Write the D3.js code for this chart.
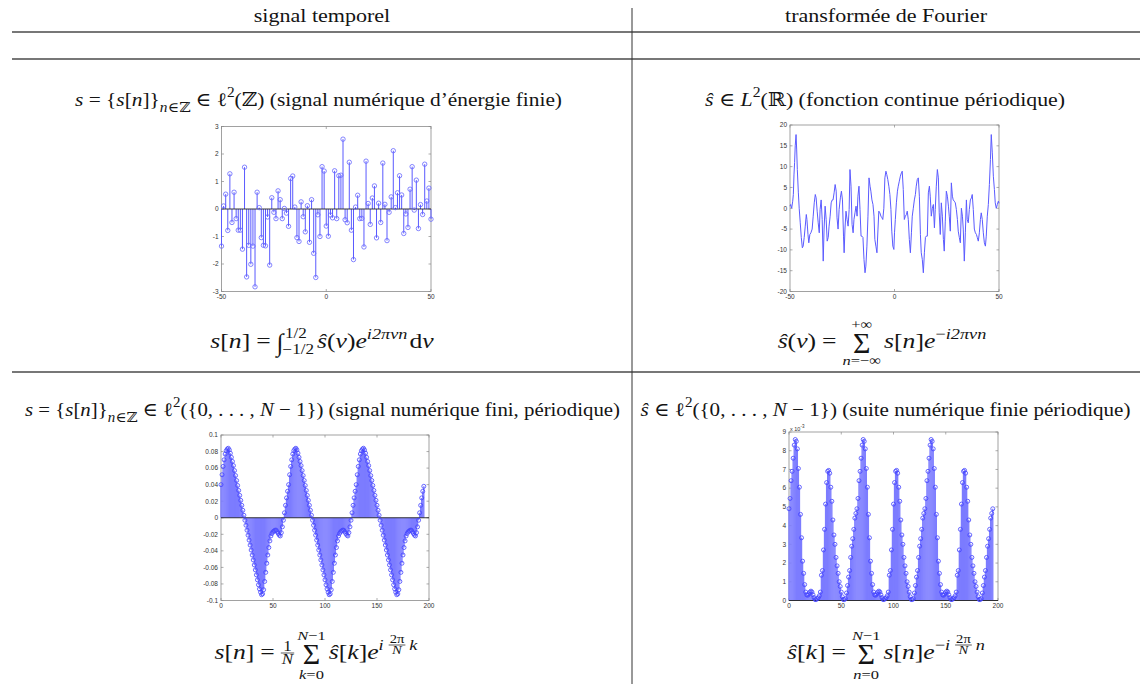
<!DOCTYPE html>
<html><head><meta charset="utf-8">
<script src="https://cdn.jsdelivr.net/npm/d3@7"></script>
<style>body{margin:0;background:#fff}</style>
</head><body>
<svg id="c" width="1147" height="684"></svg>
<script>
// ---------- DATA ----------
const headers = ["signal temporel", "transformée de Fourier"];

// chart 1: s[n], n = -50..50
const stemN = d3.range(-50, 51);
const stemValues = [-1.35,0.11,0.54,-0.78,1.28,-0.49,0.61,-0.35,-0.77,-0.77,
 -1.46,1.52,-2.47,-1.32,-2.01,-1.35,-2.83,0.61,0.05,-1.04,
 -1.32,-1.34,-0.29,-2.04,0.41,-0.12,-0.35,0.66,0.34,-0.35,
 0.02,-0.15,-0.63,1.11,1.2,0.07,-1.04,-1.18,0.26,-0.28,
 -0.83,0.12,-1.21,0.34,-1.61,-2.49,-0.21,-1.0,1.54,1.38,
 -0.62,-0.99,-0.22,-0.32,1.39,-0.35,1.21,1.23,2.54,-0.39,
 -0.5,1.7,-0.77,-1.84,0.07,0.5,-0.35,-0.34,-1.38,1.74,
 0.2,-0.56,0.4,0.84,-1.05,0.21,-0.49,1.67,0.17,-1.15,
 -0.12,0.44,2.12,0.05,0.59,1.21,0.51,-0.89,-0.18,-0.67,
 0.72,1.54,-0.04,1.05,-0.71,0.16,-0.2,1.63,0.29,0.76,
 -0.37];
const stemXTicks = [-50, 0, 50];
const stemYTicks = [-3, -2, -1, 0, 1, 2, 3];

// chart 2: continuous periodic function
const contNu = [-50,-49.7,-49.2,-48.7,-48.4,-48.1,-47.8,-47.5,-47.1,-46.8,-46.5,-46.0,-45.6,-45.1,-44.6,-44.1,-43.7,-43.2,-42.7,-42.2,
 -41.9,-41.4,-41.0,-40.5,-40.0,-39.4,-38.9,-38.4,-37.9,-37.5,-37.0,-36.5,-36.0,-35.6,-35.1,-34.6,-34.1,-33.7,-33.2,-32.7,
 -32.2,-31.7,-31.3,-30.8,-30.3,-29.8,-29.4,-28.9,-28.4,-27.9,-27.5,-27.0,-26.5,-25.9,-25.4,-24.9,-24.4,-24.1,-23.7,-23.2,
 -22.7,-22.2,-21.7,-21.3,-20.8,-20.3,-19.8,-19.4,-18.9,-18.4,-17.9,-17.5,-17.0,-16.5,-16.0,-15.6,-15.1,-14.6,-14.1,-13.7,
 -13.2,-12.7,-12.2,-11.7,-11.3,-10.8,-10.3,-9.8,-9.4,-8.9,-8.4,-7.9,-7.5,-7.0,-6.5,-6.0,-5.6,-5.1,-4.6,-4.1,
 -3.7,-3.2,-2.7,-2.2,-1.7,-1.3,-0.8,-0.3,0.0,
 0.4,0.9,1.4,1.8,2.3,2.8,3.3,3.7,4.2,4.7,5.2,5.7,6.1,6.6,7.1,7.6,8.1,8.5,9.0,9.5,
 10.0,10.4,10.9,11.4,11.9,12.4,12.8,13.3,13.8,14.3,14.8,15.2,15.7,16.2,16.7,17.1,17.6,18.1,18.6,19.1,
 19.5,20.0,20.5,21.0,21.4,21.9,22.4,22.9,23.4,23.8,24.3,24.8,25.3,25.8,26.2,26.7,27.2,27.7,28.1,28.6,
 29.1,29.6,30.1,30.5,31.0,31.5,32.0,32.5,32.9,33.4,33.9,34.4,34.8,35.3,35.8,36.3,36.8,37.2,37.7,38.2,
 38.7,39.2,39.6,40.1,40.6,41.1,41.5,42.0,42.5,43.0,43.5,43.9,44.4,44.9,45.4,45.9,46.3,46.8,47.3,47.8,
 48.2,48.7,49.2,49.7,50];
const contValues = [0.5,0.9,0,1.7,3.3,8,11,15,17.7,14,9.3,3.7,0,-3.5,-7,-9.5,-9.1,-7,-4.3,-1.5,
 -2.7,-6.3,-8.3,-6.3,-5.9,-5,-1.9,1.3,3.3,2.5,-0.7,-3.5,-5.9,-0.3,2,-2.7,-12.7,-5,0.5,-2.7,
 -7.9,-7,-4.3,-1.9,1.3,2,2,3.7,5.7,4.1,-2.3,-5,-0.3,2.5,4.1,2,-6.7,-10.7,-5,-0.7,
 -2.7,-4.3,-0.3,9.3,5.3,-3.9,-5.9,-2.7,-1.1,0.5,-1.9,2.9,5.3,-0.3,-6.7,-6.7,-7,-12.3,-15.5,-13.9,
 -9.1,-1.9,7.3,5.3,4.1,2,0.9,-1.9,-7.5,-9.1,-10.7,-5,-0.7,-1.1,-1.9,-2.3,-2.7,0,7.3,8.9,
 8.1,6.9,5.3,3.3,-0.3,-5.5,-9.1,-9.9,-5.9,
 -2.7,1.3,4.1,5.3,6.5,7.7,8.5,8.9,4.5,-2.7,-1.9,-1.5,-0.7,-2.7,-7.5,-10.7,-5.9,-1.9,0,2,
 3.3,5.3,6.9,7.3,2.9,-6.3,-10.7,-12.3,-15.5,-10.7,-7,-6.7,-6.7,3.7,5.3,2.9,-1.9,0,0.9,-4.7,
 -0.3,5.3,9.3,7.3,-1.1,-6.3,1.3,-1.9,-7.5,-10.3,-3.1,4.1,2.9,0.5,-1.9,-5.5,6.1,2.9,2,1.7,
 1.3,-0.3,-2.7,-5.5,-7,-8.3,0,-1.9,-5,-12.7,-5.9,2,-2.7,-3.5,-0.3,2,2.5,3.3,-0.3,-5,
 -5.9,-6.3,-7,-7.9,-5.9,-2.7,-1.1,-2.7,-5.9,-8.3,-9.1,-6.7,-1.9,0.9,5.7,11.7,17.7,13.3,7.7,4.5,
 1.3,0,0.9,1.7,1.2];
const contXTicks = [-50, 0, 50];
const contYTicks = [-20, -15, -10, -5, 0, 5, 10, 15, 20];

// chart 3: finite periodic signal, n = 0..195
const finiteN = d3.range(0, 196);
const finiteSignal = [
 0.040,0.052,0.062,0.070,0.077,0.081,0.083,0.084,0.082,0.078,0.073,0.068,0.063,0.057,0.051,0.045,0.039,0.033,0.027,0.021,
 0.015,0.009,0.003,-0.003,-0.009,-0.015,-0.021,-0.027,-0.033,-0.039,-0.045,-0.051,-0.057,-0.063,-0.069,-0.075,-0.081,-0.086,-0.090,-0.093,
 -0.092,-0.087,-0.077,-0.066,-0.055,-0.045,-0.036,-0.028,-0.022,-0.019,-0.017,-0.016,-0.015,-0.015,-0.017,-0.019,-0.021,-0.022,-0.018,-0.011,
 -0.003,0.006,0.015,0.024,0.032,
 0.040,0.052,0.062,0.070,0.077,0.081,0.083,0.084,0.082,0.078,0.073,0.068,0.063,0.057,0.051,0.045,0.039,0.033,0.027,0.021,
 0.015,0.009,0.003,-0.003,-0.009,-0.015,-0.021,-0.027,-0.033,-0.039,-0.045,-0.051,-0.057,-0.063,-0.069,-0.075,-0.081,-0.086,-0.090,-0.093,
 -0.092,-0.087,-0.077,-0.066,-0.055,-0.045,-0.036,-0.028,-0.022,-0.019,-0.017,-0.016,-0.015,-0.015,-0.017,-0.019,-0.021,-0.022,-0.018,-0.011,
 -0.003,0.006,0.015,0.024,0.032,
 0.040,0.052,0.062,0.070,0.077,0.081,0.083,0.084,0.082,0.078,0.073,0.068,0.063,0.057,0.051,0.045,0.039,0.033,0.027,0.021,
 0.015,0.009,0.003,-0.003,-0.009,-0.015,-0.021,-0.027,-0.033,-0.039,-0.045,-0.051,-0.057,-0.063,-0.069,-0.075,-0.081,-0.086,-0.090,-0.093,
 -0.092,-0.087,-0.077,-0.066,-0.055,-0.045,-0.036,-0.028,-0.022,-0.019,-0.017,-0.016,-0.015,-0.015,-0.017,-0.019,-0.021,-0.022,-0.018,-0.011,
 -0.003,0.006,0.015,0.024,0.032,
 0.038];
const finiteXTicks = [0, 50, 100, 150, 200];
const finiteYTicks = [-0.1, -0.08, -0.06, -0.04, -0.02, 0, 0.02, 0.04, 0.06, 0.08, 0.1];

// chart 4: finite periodic spectrum (x 10^-3), k = 0..195
const spectrumValues = [
 4.90,5.45,6.40,6.90,7.60,8.30,8.60,8.50,8.10,7.05,6.05,4.60,3.35,2.10,1.45,0.85,0.45,0.30,0.28,0.35,
 0.45,0.50,0.45,0.30,0.15,0.05,0.05,0.10,0.15,0.25,0.45,1.35,1.60,2.70,3.80,5.15,6.30,6.90,6.95,6.80,
 6.05,5.30,4.30,3.50,3.00,2.30,1.85,1.45,1.00,0.75,0.45,0.20,0.05,0.05,0.10,0.40,0.80,1.25,1.60,2.30,
 2.90,3.30,3.80,4.40,4.65,
 4.90,5.45,6.40,6.90,7.60,8.30,8.60,8.50,8.10,7.05,6.05,4.60,3.35,2.10,1.45,0.85,0.45,0.30,0.28,0.35,
 0.45,0.50,0.45,0.30,0.15,0.05,0.05,0.10,0.15,0.25,0.45,1.35,1.60,2.70,3.80,5.15,6.30,6.90,6.95,6.80,
 6.05,5.30,4.30,3.50,3.00,2.30,1.85,1.45,1.00,0.75,0.45,0.20,0.05,0.05,0.10,0.40,0.80,1.25,1.60,2.30,
 2.90,3.30,3.80,4.40,4.65,
 4.90,5.45,6.40,6.90,7.60,8.30,8.60,8.50,8.10,7.05,6.05,4.60,3.35,2.10,1.45,0.85,0.45,0.30,0.28,0.35,
 0.45,0.50,0.45,0.30,0.15,0.05,0.05,0.10,0.15,0.25,0.45,1.35,1.60,2.70,3.80,5.15,6.30,6.90,6.95,6.80,
 6.05,5.30,4.30,3.50,3.00,2.30,1.85,1.45,1.00,0.75,0.45,0.20,0.05,0.05,0.10,0.40,0.80,1.25,1.60,2.30,
 2.90,3.30,3.80,4.40,4.65,
 4.90];
const spectrumXTicks = [0, 50, 100, 150, 200];
const spectrumYTicks = [0, 1, 2, 3, 4, 5, 6, 7, 8, 9];

// ---------- DRAWING ----------
const svg = d3.select("#c");
const FONT = "'Liberation Serif','DejaVu Serif',serif";
const TICKFONT = "'Liberation Sans','DejaVu Sans',sans-serif";
const INK = "#141414";

function rich(parent, x, y, segs, o = {}) {
  const size = o.size || 19;
  const t = parent.append("text").attr("x", x).attr("y", y)
    .attr("font-family", FONT).attr("font-size", size)
    .attr("text-anchor", o.anchor || "start").attr("fill", INK);
  let cur = 0;
  segs.forEach(s => {
    const txt = s[0], flags = (s[1] || "").split(" ");
    let off = 0, fs = size;
    if (flags.includes("sup")) { off = -size * 0.45; fs = size * 0.72; }
    if (flags.includes("sub")) { off = size * 0.3; fs = size * 0.72; }
    const ts = t.append("tspan").text(txt).attr("dy", off - cur).attr("font-size", fs);
    if (flags.includes("i")) ts.attr("font-style", "italic");
    cur = off;
  });
  const nat = t.node().getComputedTextLength();
  let w = nat;
  if (o.width) w = o.width;
  else if (o.k) w = nat * o.k;
  if (w !== nat) t.attr("textLength", w).attr("lengthAdjust", "spacingAndGlyphs");
  t._w = w;
  return t;
}

// horizontal math layout, centred on cx
function formula(cx, by, items, k = 1.22, ms = 21) {
  const g = svg.append("g");
  let x = 0;
  for (const it of items) {
    if (it.gap) { x += it.gap; continue; }
    if (it.segs) {
      const t = rich(g, x, by + (it.dy || 0), it.segs, { size: it.size || ms, k });
      x += t._w;
    } else if (it.sum) {
      const top = rich(g, 0, by - 19.5, it.top, { size: 13.5, k, anchor: "middle" });
      const bot = rich(g, 0, by + (it.lo || 17), it.bot, { size: 13.5, k, anchor: "middle" });
      const sig = rich(g, 0, by + 4.5, [["Σ"]], { size: 30, anchor: "middle" });
      const w = Math.max(top._w, bot._w, sig._w);
      [top, bot, sig].forEach(t => t.attr("x", x + w / 2));
      x += w;
    } else if (it.int) {
      const s = rich(g, x, by + 3, [["∫", "i"]], { size: 25 });
      const top = rich(g, x + s._w + 1.5, by - 10, it.top, { size: 14, k });
      const bot = rich(g, x + s._w - 1, by + 6, it.bot, { size: 14, k });
      x += s._w + Math.max(top._w + 1.5, bot._w - 1);
    } else if (it.frac) {
      const sz = it.size || 13;
      const barY = by + it.bar;
      const num = rich(g, 0, barY - 2, it.frac[0], { size: sz, k, anchor: "middle" });
      const den = rich(g, 0, barY + sz * 0.78, it.frac[1], { size: sz, k, anchor: "middle" });
      const w = Math.max(num._w, den._w) + 2;
      num.attr("x", x + w / 2); den.attr("x", x + w / 2);
      g.append("line").attr("x1", x).attr("x2", x + w).attr("y1", barY).attr("y2", barY)
        .attr("stroke", INK).attr("stroke-width", 0.7);
      x += w;
    }
  }
  g.attr("transform", `translate(${cx - x / 2},0)`);
}

// table rules
[32, 59, 372].forEach(y => svg.append("line").attr("x1", 12).attr("x2", 1140).attr("y1", y).attr("y2", y)
  .attr("stroke", "#4a4a4a").attr("stroke-width", 1.4));
svg.append("line").attr("x1", 632).attr("x2", 632).attr("y1", 8).attr("y2", 684).attr("stroke", "#333").attr("stroke-width", 1);

// headers
rich(svg, 322, 22, [[headers[0]]], { anchor: "middle", k: 1.16 });
rich(svg, 886, 22, [[headers[1]]], { anchor: "middle", k: 1.16 });

// row titles
rich(svg, 318.5, 106, [["s","i"],[" = {"],["s","i"],["["],["n","i"],["]}"],["n","i sub"],["∈ℤ","sub"],[" ∈ ℓ"],["2","sup"],["(ℤ) (signal numérique d’énergie finie)"]],
  { anchor: "middle", width: 487 });
rich(svg, 885, 106, [["ŝ","i"],[" ∈ "],["L","i"],["2","sup"],["(ℝ) (fonction continue périodique)"]],
  { anchor: "middle", width: 360 });
rich(svg, 322.5, 416, [["s","i"],[" = {"],["s","i"],["["],["n","i"],["]}"],["n","i sub"],["∈ℤ","sub"],[" ∈ ℓ"],["2","sup"],["({0, . . . , "],["N","i"],[" − 1}) (signal numérique fini, périodique)"]],
  { anchor: "middle", width: 595 });
rich(svg, 885.5, 416, [["ŝ","i"],[" ∈ ℓ"],["2","sup"],["({0, . . . , "],["N","i"],[" − 1}) (suite numérique finie périodique)"]],
  { anchor: "middle", width: 490 });

// formulas
const SUPDY = -9.5;
formula(322, 348, [
  { segs: [["s","i"],["["],["n","i"],["]"]] }, { gap: 6 }, { segs: [["="]] }, { gap: 6 },
  { int: 1, top: [["1/2"]], bot: [["−1/2"]] }, { gap: 3 },
  { segs: [["ŝ","i"],["("],["ν","i"],[")"],["e","i"]] }, { segs: [["i2πνn","i"]], size: 15, dy: SUPDY }, { gap: 2 },
  { segs: [["d"],["ν","i"]] }
]);
formula(882, 348, [
  { segs: [["ŝ","i"],["("],["ν","i"],[")"]] }, { gap: 6 }, { segs: [["="]] }, { gap: 6 },
  { sum: 1, top: [["+∞"]], bot: [["n","i"],["=−∞"]] }, { gap: 3 },
  { segs: [["s","i"],["["],["n","i"],["]"],["e","i"]] }, { segs: [["−"],["i2πνn","i"]], size: 15, dy: SUPDY }
]);
formula(316, 659, [
  { segs: [["s","i"],["["],["n","i"],["]"]] }, { gap: 6 }, { segs: [["="]] }, { gap: 6 },
  { frac: [[["1"]], [["N","i"]]], size: 14, bar: -6 }, { gap: 3 },
  { sum: 1, top: [["N","i"],["−1"]], bot: [["k","i"],["=0"]], lo: 20 }, { gap: 3 },
  { segs: [["ŝ","i"],["["],["k","i"],["]"],["e","i"]] }, { segs: [["i","i"]], size: 15, dy: SUPDY }, { gap: 5 },
  { frac: [[["2π"]], [["N","i"]]], size: 12, bar: -14 }, { gap: 4 }, { segs: [["k","i"]], size: 15, dy: SUPDY }
]);
formula(886, 659, [
  { segs: [["ŝ","i"],["["],["k","i"],["]"]] }, { gap: 6 }, { segs: [["="]] }, { gap: 6 },
  { sum: 1, top: [["N","i"],["−1"]], bot: [["n","i"],["=0"]], lo: 20 }, { gap: 3 },
  { segs: [["s","i"],["["],["n","i"],["]"],["e","i"]] }, { segs: [["−"],["i","i"]], size: 15, dy: SUPDY }, { gap: 5 },
  { frac: [[["2π"]], [["N","i"]]], size: 12, bar: -14 }, { gap: 4 }, { segs: [["n","i"]], size: 15, dy: SUPDY }
]);

// ---------- chart helpers ----------
function axesBox(x, y, xt, yt, fmt) {
  const g = svg.append("g");
  const [x0, x1] = x.range(), [y0, y1] = y.range();
  const ac = "#8a8a8a";
  g.append("rect").attr("x", x0).attr("y", y1).attr("width", x1 - x0).attr("height", y0 - y1)
    .attr("fill", "#fff").attr("stroke", ac).attr("stroke-width", 0.8);
  const tl = 2.5;
  xt.forEach(v => {
    g.append("line").attr("x1", x(v)).attr("x2", x(v)).attr("y1", y0).attr("y2", y0 - tl).attr("stroke", ac).attr("stroke-width", 0.7);
    g.append("line").attr("x1", x(v)).attr("x2", x(v)).attr("y1", y1).attr("y2", y1 + tl).attr("stroke", ac).attr("stroke-width", 0.7);
    g.append("text").attr("x", x(v)).attr("y", y0 + 7).attr("text-anchor", "middle")
      .attr("font-family", TICKFONT).attr("font-size", 6.5).attr("fill", "#333").text(v);
  });
  yt.forEach(v => {
    g.append("line").attr("x1", x0).attr("x2", x0 + tl).attr("y1", y(v)).attr("y2", y(v)).attr("stroke", ac).attr("stroke-width", 0.7);
    g.append("line").attr("x1", x1).attr("x2", x1 - tl).attr("y1", y(v)).attr("y2", y(v)).attr("stroke", ac).attr("stroke-width", 0.7);
    g.append("text").attr("x", x0 - 3).attr("y", y(v) + 2.3).attr("text-anchor", "end")
      .attr("font-family", TICKFONT).attr("font-size", 6.5).attr("fill", "#333").text(fmt ? fmt(v) : v);
  });
}

function stems(x, y, xs, vs, stemColor, circColor, r, sw) {
  const g = svg.append("g");
  g.selectAll("line.s").data(vs).join("line")
    .attr("x1", (d, i) => x(xs[i])).attr("x2", (d, i) => x(xs[i]))
    .attr("y1", y(0)).attr("y2", d => y(d)).attr("stroke", stemColor).attr("stroke-width", sw);
  g.append("line").attr("x1", x.range()[0]).attr("x2", x.range()[1]).attr("y1", y(0)).attr("y2", y(0))
    .attr("stroke", "#222").attr("stroke-width", 0.9);
  g.selectAll("circle").data(vs).join("circle")
    .attr("cx", (d, i) => x(xs[i])).attr("cy", d => y(d)).attr("r", r)
    .attr("fill", "none").attr("stroke", circColor).attr("stroke-width", 0.8);
}

// chart 1
{
  const x = d3.scaleLinear().domain([-50, 50]).range([221.5, 431]);
  const y = d3.scaleLinear().domain([-3, 3]).range([291.5, 126.5]);
  axesBox(x, y, stemXTicks, stemYTicks);
  stems(x, y, stemN, stemValues, "#5a5aff", "#6666ff", 2.2, 1);
}
// chart 2
{
  const x = d3.scaleLinear().domain([-50, 50]).range([790, 999]);
  const y = d3.scaleLinear().domain([-20, 20]).range([291.5, 125]);
  axesBox(x, y, contXTicks, contYTicks);
  const line = d3.line().x((d, i) => x(contNu[i])).y(d => y(d));
  svg.append("path").attr("d", line(contValues)).attr("fill", "none").attr("stroke", "#5b5bff").attr("stroke-width", 1);
}
// chart 3
{
  const x = d3.scaleLinear().domain([0, 200]).range([221, 429]);
  const y = d3.scaleLinear().domain([-0.1, 0.1]).range([600.5, 435]);
  axesBox(x, y, finiteXTicks, finiteYTicks, v => v === 0 ? "0" : String(+v.toFixed(2)));
  stems(x, y, finiteN, finiteSignal, "#7c7cff", "#4444ff", 2.0, 1.35);
}
// chart 4
{
  const x = d3.scaleLinear().domain([0, 200]).range([789, 998]);
  const y = d3.scaleLinear().domain([0, 9]).range([600.5, 432]);
  axesBox(x, y, spectrumXTicks, spectrumYTicks);
  stems(x, y, finiteN, spectrumValues, "#7c7cff", "#4444ff", 2.0, 1.35);
  const t = svg.append("text").attr("x", 790).attr("y", 430.5).attr("font-family", TICKFONT).attr("font-size", 5.5).attr("fill", "#333");
  t.append("tspan").text("x 10");
  t.append("tspan").text("-3").attr("dy", -2.5).attr("font-size", 4.5);
}
</script>
</body></html>
